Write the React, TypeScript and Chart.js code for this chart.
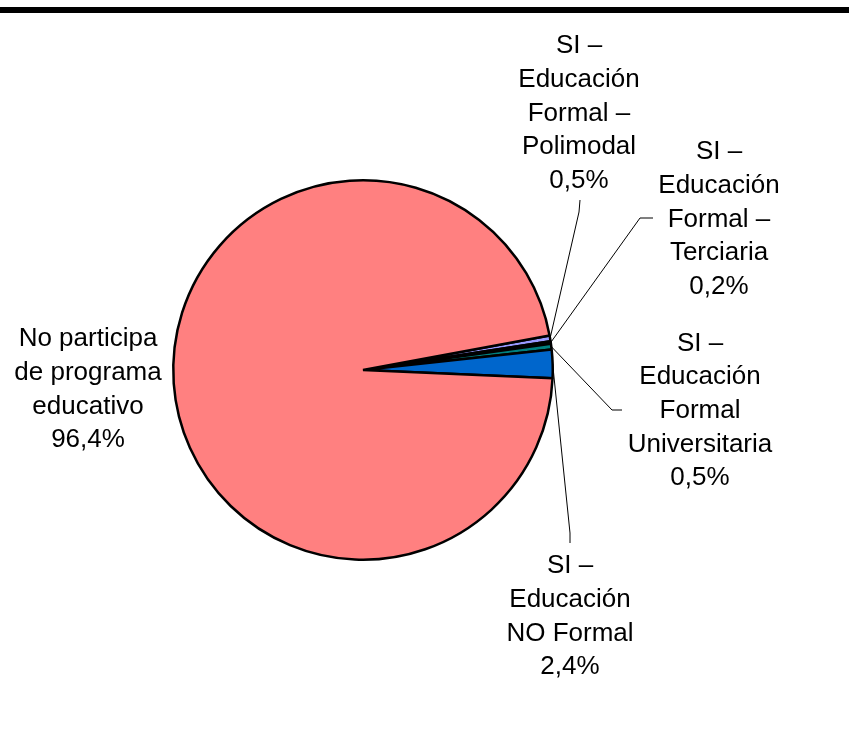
import { useEffect, useRef } from "react";
import { Chart, registerables } from "chart.js";

Chart.register(...registerables);

const categories: string[][] = [
  ["SI –", "Educación", "Formal –", "Polimodal"],
  ["SI –", "Educación", "Formal –", "Terciaria"],
  ["SI –", "Educación", "Formal", "Universitaria"],
  ["SI –", "Educación", "NO Formal"],
  ["No participa", "de programa", "educativo"],
];
const values = [0.5, 0.2, 0.5, 2.4, 96.4];
const valueLabels = ["0,5%", "0,2%", "0,5%", "2,4%", "96,4%"];
const colors = ["#9999FF", "#FFFFCC", "#008080", "#0066CC", "#FF8080"];

// label placement relative to pie centre (layout only)
type Lay = { dx: number; dy: number; elbow?: [number, number]; end?: [number, number] };
const labelLayout: Lay[] = [
  { dx: 216, dy: -324, elbow: [216, -158], end: [217, -170] },
  { dx: 356, dy: -218, elbow: [277, -152], end: [290, -152] },
  { dx: 337, dy: -26.5, elbow: [249, 40], end: [259, 40] },
  { dx: 207, dy: 196, elbow: [207, 163], end: [207, 173] },
  { dx: -275, dy: -31 },
];
const LINE_H = 33.7;
const FONT = "26px 'Liberation Sans', Arial, sans-serif";

const labelPlugin = {
  id: "pieLabels",
  beforeDraw(chart: any) {
    const ctx = chart.ctx;
    ctx.save();
    ctx.fillStyle = "#000";
    ctx.fillRect(0, 7, chart.width, 6);
    ctx.restore();
  },
  afterDatasetsDraw(chart: any) {
    const ctx = chart.ctx;
    const meta = chart.getDatasetMeta(0);
    ctx.save();
    ctx.font = FONT;
    ctx.fillStyle = "#000";
    ctx.strokeStyle = "#000";
    ctx.lineWidth = 1;
    ctx.textAlign = "center";
    ctx.textBaseline = "middle";
    meta.data.forEach((arc: any, i: number) => {
      const p = arc.getProps(["x", "y", "startAngle", "endAngle", "outerRadius"], true);
      const lay = labelLayout[i];
      const lines = [...categories[i], valueLabels[i]];
      lines.forEach((t, k) => {
        ctx.fillText(t, p.x + lay.dx, p.y + lay.dy + k * LINE_H);
      });
      if (lay.elbow && lay.end) {
        const mid = (p.startAngle + p.endAngle) / 2;
        const sx = p.x + Math.cos(mid) * p.outerRadius;
        const sy = p.y + Math.sin(mid) * p.outerRadius;
        ctx.beginPath();
        ctx.moveTo(sx, sy);
        ctx.lineTo(p.x + lay.elbow[0], p.y + lay.elbow[1]);
        ctx.lineTo(p.x + lay.end[0], p.y + lay.end[1]);
        ctx.stroke();
      }
    });
    ctx.restore();
  },
};

export default function App() {
  const ref = useRef<HTMLCanvasElement | null>(null);
  useEffect(() => {
    document.body.style.margin = "0";
    const chart = new Chart(ref.current!, {
      type: "pie",
      data: {
        labels: categories.map((c) => c.join(" ")),
        datasets: [
          {
            data: values,
            backgroundColor: colors,
            borderColor: "#000",
            borderWidth: 2.5,
          },
        ],
      },
      options: {
        animation: false,
        responsive: true,
        maintainAspectRatio: false,
        rotation: 79.5,
        layout: { padding: { left: 172, right: 295, top: 179, bottom: 175 } },
        plugins: {
          legend: { display: false },
          tooltip: { enabled: false },
        },
      },
      plugins: [labelPlugin],
    });
    return () => chart.destroy();
  }, []);
  return (
    <div style={{ width: 849, height: 736, position: "relative" }}>
      <canvas ref={ref} />
    </div>
  );
}
